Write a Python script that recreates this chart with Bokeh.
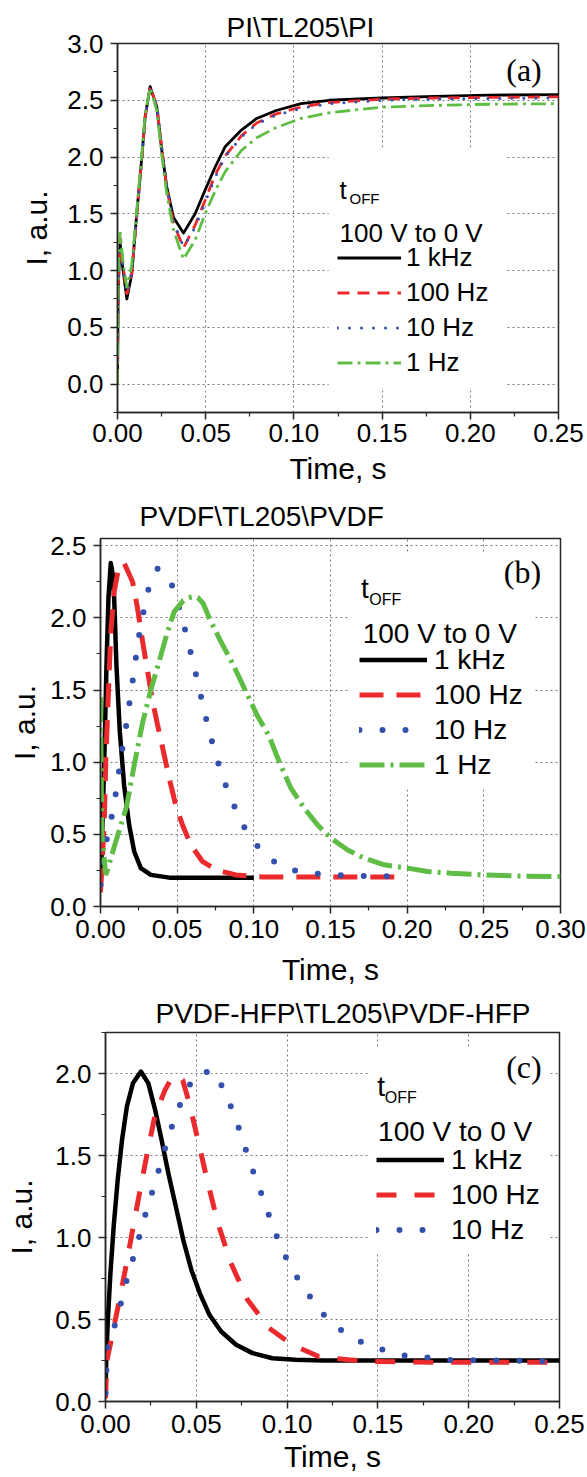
from bokeh.plotting import figure
from bokeh.models import (Legend, LegendItem, Label, BoxAnnotation, FixedTicker,
                          NumeralTickFormatter, Range1d)
from bokeh.embed import file_html
from bokeh.resources import INLINE

SANS = "Liberation Sans"
SERIF = "Liberation Serif"
BLACK = "#000000"
RED = "#ea2a2c"
BLUE = "#3350ad"
GREEN = "#5fbd45"

series_names = ["1 kHz", "100 Hz", "10 Hz", "1 Hz"]

# ---------------- panel (a): PI\TL205\PI ----------------
a_time = [0.0, 0.0004, 0.0015, 0.003, 0.0053, 0.0081, 0.0109, 0.0138, 0.0157, 0.0185,
          0.0223, 0.0251, 0.0279, 0.0317, 0.0374, 0.044, 0.0497, 0.0553, 0.061, 0.0704,
          0.0789, 0.09, 0.104, 0.12, 0.15, 0.18, 0.21, 0.25]
a_1khz = [0.0, 0.85, 1.24, 1.02, 0.75, 0.97, 1.50, 2.00, 2.36, 2.62, 2.44, 2.06, 1.74, 1.47,
          1.33, 1.50, 1.71, 1.91, 2.09, 2.24, 2.34, 2.41, 2.47, 2.50, 2.52, 2.535, 2.545, 2.55]
a_100hz = [0.0, 0.85, 1.29, 1.06, 0.79, 0.98, 1.48, 1.99, 2.35, 2.62, 2.45, 2.08, 1.73, 1.42,
           1.20, 1.40, 1.62, 1.84, 2.01, 2.19, 2.30, 2.38, 2.44, 2.48, 2.51, 2.52, 2.525, 2.53]
a_10hz = [0.0, 0.83, 1.27, 1.05, 0.80, 0.99, 1.47, 1.98, 2.35, 2.61, 2.46, 2.09, 1.75, 1.43,
          1.21, 1.38, 1.60, 1.82, 2.00, 2.18, 2.29, 2.37, 2.43, 2.47, 2.50, 2.51, 2.515, 2.52]
a_1hz = [0.0, 0.95, 1.34, 1.10, 0.85, 1.05, 1.53, 2.03, 2.38, 2.61, 2.41, 2.02, 1.68, 1.36,
         1.10, 1.27, 1.50, 1.70, 1.87, 2.06, 2.17, 2.26, 2.34, 2.39, 2.44, 2.455, 2.465, 2.47]

# ---------------- panel (b): PVDF\TL205\PVDF ----------------
b_time_1khz = [0.0, 0.0012, 0.0024, 0.0039, 0.0052, 0.0067, 0.0080, 0.0089, 0.0104, 0.0126,
               0.0154, 0.0187, 0.0220, 0.0263, 0.0328, 0.0448, 0.06, 0.08, 0.10]
b_1khz = [0.10, 0.55, 0.98, 1.67, 2.14, 2.38, 2.30, 2.14, 1.67, 1.21, 0.84, 0.565, 0.381,
          0.266, 0.219, 0.20, 0.20, 0.20, 0.20]
b_time_100hz = [0.0, 0.0024, 0.0035, 0.0052, 0.0067, 0.0089, 0.0117, 0.0154, 0.0209, 0.0241,
                0.0274, 0.0307, 0.0344, 0.0372, 0.0405, 0.0448, 0.0491, 0.0535, 0.0589,
                0.0665, 0.0753, 0.0883, 0.1057, 0.13, 0.16, 0.20]
b_100hz = [0.10, 0.565, 1.03, 1.49, 1.90, 2.18, 2.34, 2.38, 2.25, 2.07, 1.84, 1.63, 1.40,
           1.26, 1.10, 0.89, 0.70, 0.565, 0.427, 0.312, 0.254, 0.219, 0.205, 0.205, 0.205, 0.205]
b_time_10hz = [0.0, 0.0035, 0.0067, 0.0095, 0.0117, 0.0139, 0.0165, 0.0187, 0.0209, 0.0230,
               0.0252, 0.0280, 0.0313, 0.0372, 0.0444, 0.0491, 0.0531, 0.0568, 0.0605, 0.0640,
               0.0672, 0.0709, 0.0748, 0.0790, 0.0835, 0.0883, 0.0933, 0.0985, 0.1046, 0.1112,
               0.1188, 0.1243, 0.1308, 0.1384, 0.16, 0.18, 0.20]
b_10hz = [0.15, 0.438, 0.588, 0.75, 0.912, 1.073, 1.235, 1.397, 1.558, 1.72, 1.88, 2.04, 2.20,
          2.34, 2.285, 2.16, 2.0, 1.85, 1.685, 1.53, 1.374, 1.212, 1.063, 0.92, 0.785, 0.67,
          0.558, 0.468, 0.39, 0.32, 0.289, 0.254, 0.242, 0.23, 0.215, 0.21, 0.21]
b_time_1hz = [0.0, 0.0008, 0.0035, 0.0100, 0.0170, 0.0220, 0.0274, 0.0328, 0.0383, 0.0437,
              0.0481, 0.0540, 0.0575, 0.0605, 0.0635, 0.0670, 0.0709, 0.0785, 0.0861, 0.0948,
              0.1024, 0.1100, 0.1155, 0.1242, 0.1329, 0.1416, 0.1503, 0.1612, 0.172, 0.185,
              0.2003, 0.2134, 0.2286, 0.2504, 0.275, 0.30]
b_1hz = [1.45, 0.5, 0.218, 0.451, 0.692, 0.981, 1.27, 1.50, 1.70, 1.904, 2.043, 2.12, 2.140,
         2.147, 2.140, 2.10, 2.0, 1.835, 1.685, 1.49, 1.32, 1.18, 1.03, 0.82, 0.681, 0.565,
         0.473, 0.392, 0.335, 0.289, 0.266, 0.243, 0.231, 0.219, 0.21, 0.208]

# ---------------- panel (c): PVDF-HFP\TL205\PVDF-HFP ----------------
c_time_1khz = [0.0, 0.0004, 0.0013, 0.0027, 0.0045, 0.0067, 0.0091, 0.0118, 0.0151, 0.0195,
               0.0236, 0.0273, 0.0309, 0.0346, 0.0387, 0.0428, 0.0473, 0.0519, 0.0573, 0.0637,
               0.0719, 0.081, 0.0919, 0.1046, 0.12, 0.15, 0.20, 0.25]
c_1khz = [0.05, 0.254, 0.50, 0.78, 1.067, 1.35, 1.595, 1.80, 1.94, 2.012, 1.94, 1.78, 1.595,
          1.392, 1.19, 0.986, 0.802, 0.661, 0.527, 0.427, 0.346, 0.295, 0.264, 0.254, 0.25,
          0.25, 0.25, 0.25]
c_time_100hz = [0.0, 0.0008, 0.0024, 0.0073, 0.0109, 0.0146, 0.0187, 0.0228, 0.0273, 0.0328,
                0.0364, 0.0391, 0.0425, 0.0464, 0.0515, 0.0564, 0.0619, 0.0691, 0.0782, 0.0901,
                0.1028, 0.1174, 0.1337, 0.1483, 0.18, 0.21, 0.25]
c_100hz = [0.02, 0.25, 0.335, 0.60, 0.803, 1.026, 1.27, 1.504, 1.748, 1.90, 1.971, 1.992,
           1.96, 1.809, 1.565, 1.331, 1.087, 0.843, 0.62, 0.447, 0.346, 0.274, 0.254, 0.244,
           0.24, 0.24, 0.24]
c_time_10hz = [0.0, 0.0009, 0.0049, 0.0086, 0.0118, 0.0155, 0.0191, 0.0228, 0.0267, 0.0304,
               0.0342, 0.0382, 0.0433, 0.0497, 0.0591, 0.0657, 0.0706, 0.0752, 0.0791, 0.0839,
               0.0883, 0.0928, 0.0983, 0.1046, 0.1119, 0.1197, 0.1289, 0.1383, 0.1478, 0.1574,
               0.1669, 0.1756, 0.1866, 0.21, 0.25]
c_10hz = [0.05, 0.325, 0.457, 0.604, 0.746, 0.884, 1.026, 1.173, 1.311, 1.453, 1.596, 1.734,
          1.87, 1.996, 2.016, 1.894, 1.754, 1.61, 1.469, 1.327, 1.189, 1.047, 0.90, 0.772,
          0.65, 0.534, 0.441, 0.376, 0.331, 0.301, 0.274, 0.27, 0.254, 0.25, 0.245]

# ticks
x_ticks_025 = [0.0, 0.05, 0.10, 0.15, 0.20, 0.25]
x_minor_025 = [0.025, 0.075, 0.125, 0.175, 0.225]
x_ticks_030 = [0.0, 0.05, 0.10, 0.15, 0.20, 0.25, 0.30]
x_minor_030 = [0.025, 0.075, 0.125, 0.175, 0.225, 0.275]
y_ticks_a = [0.0, 0.5, 1.0, 1.5, 2.0, 2.5, 3.0]
y_minor_a = [-0.25, 0.25, 0.75, 1.25, 1.75, 2.25, 2.75]
y_ticks_b = [0.0, 0.5, 1.0, 1.5, 2.0, 2.5]
y_minor_b = [0.25, 0.75, 1.25, 1.75, 2.25]
y_ticks_c = [0.0, 0.5, 1.0, 1.5, 2.0]
y_minor_c = [0.25, 0.75, 1.25, 1.75, 2.25]

AX = "#262626"


def make_fig(title, title_offset, title_standoff, xr, yr, fw, fh, bl, br, bt, bb,
             xt, xm, yt, ym, ylab_so, xlab_so, xtick_so):
    p = figure(frame_width=fw, frame_height=fh, x_range=Range1d(*xr), y_range=Range1d(*yr),
               output_backend="svg", toolbar_location=None,
               min_border_left=bl, min_border_right=br, min_border_top=bt, min_border_bottom=bb,
               title=title)
    p.title.text_font = SANS
    p.title.text_font_size = "28px"
    p.title.text_font_style = "normal"
    p.title.text_color = "black"
    p.title.align = "left"
    p.title.offset = title_offset
    p.title.standoff = title_standoff
    p.xaxis.ticker = FixedTicker(ticks=xt, minor_ticks=xm)
    p.yaxis.ticker = FixedTicker(ticks=yt, minor_ticks=ym)
    p.xaxis.formatter = NumeralTickFormatter(format="0.00")
    p.yaxis.formatter = NumeralTickFormatter(format="0.0")
    for ax in (p.xaxis[0], p.yaxis[0]):
        ax.axis_line_color = AX
        ax.axis_line_width = 1.5
        ax.major_tick_line_color = AX
        ax.minor_tick_line_color = AX
        ax.major_tick_line_width = 1.5
        ax.minor_tick_line_width = 1.2
        ax.major_tick_out = 7
        ax.major_tick_in = 0
        ax.minor_tick_out = 4
        ax.minor_tick_in = 0
        ax.major_label_text_font = SANS
        ax.major_label_text_font_size = "26px"
        ax.major_label_text_color = "black"
        ax.axis_label_text_font = SANS
        ax.axis_label_text_font_style = "normal"
        ax.axis_label_text_color = "black"
        ax.axis_label_text_font_size = "30px"
    p.xaxis.axis_label = "Time, s"
    p.yaxis.axis_label = "I, a.u."
    p.xaxis.major_label_standoff = xtick_so
    p.yaxis.major_label_standoff = 7
    p.xaxis.axis_label_standoff = xlab_so
    p.yaxis.axis_label_standoff = ylab_so
    for g in (p.xgrid[0], p.ygrid[0]):
        g.grid_line_color = "#7a7a7a"
        g.grid_line_dash = "2 3"
        g.grid_line_width = 1
    p.outline_line_color = AX
    p.outline_line_width = 1.5
    p.background_fill_color = "white"
    p.border_fill_color = "white"
    return p


def add_legend_block(p, box, t_pos, off_pos, head_pos, tag, tag_pos, items, loc,
                     glyph_w, standoff, fsize, off_size):
    p.add_layout(BoxAnnotation(left=box[0], right=box[1], bottom=box[2], top=box[3],
                               fill_color="white", fill_alpha=1.0, line_alpha=0))
    p.add_layout(Label(x=t_pos[0], y=t_pos[1], text="t", text_font=SANS,
                       text_font_size=fsize, text_baseline="alphabetic", text_color="black"))
    p.add_layout(Label(x=off_pos[0], y=off_pos[1], text="OFF", text_font=SANS,
                       text_font_size=off_size, text_baseline="alphabetic", text_color="black"))
    p.add_layout(Label(x=head_pos[0], y=head_pos[1], text="100 V to 0 V", text_font=SANS,
                       text_font_size=fsize, text_baseline="alphabetic", text_color="black"))
    p.add_layout(Label(x=tag_pos[0], y=tag_pos[1], text=tag, text_font=SERIF,
                       text_font_size="32px", text_align="right", text_baseline="middle",
                       text_color="black"))
    leg = Legend(items=items, location=loc, glyph_width=glyph_w, glyph_height=35,
                 label_height=35, label_standoff=standoff, spacing=0, padding=0, margin=0,
                 border_line_alpha=0, background_fill_alpha=0,
                 label_text_font=SANS, label_text_font_size=fsize, label_text_color="black")
    p.add_layout(leg)


# ---- (a)
pa = make_fig("PI\\TL205\\PI", 109, 2, (0, 0.25), (-0.25, 3.0), 441, 369, 117, 29, 43, 79,
              x_ticks_025, x_minor_025, y_ticks_a, y_minor_a, 11, 7, 4)
ra1 = pa.line(a_time, a_1khz, line_color=BLACK, line_width=2.8, line_join="round")
ra2 = pa.line(a_time, a_100hz, line_color=RED, line_width=2.8, line_dash="12 8")
ra3 = pa.line(a_time, a_10hz, line_color=BLUE, line_width=3, line_dash="0 12", line_cap="round")
ra4 = pa.line(a_time, a_1hz, line_color=GREEN, line_width=2.8, line_dash="15 5 3 5")
items_a = [LegendItem(label=n, renderers=[r]) for n, r in zip(series_names, [ra1, ra2, ra3, ra4])]
add_legend_block(pa, (0.1197, 0.2197, -0.03, 2.06), (0.1259, 1.714), (0.1315, 1.637),
                 (0.1259, 1.330), "(a)", (0.2405, 2.768), items_a, (220, 32), 64, 5,
                 "26px", "15px")

# ---- (b)
pb = make_fig("PVDF\\TL205\\PVDF", 39, 14, (0, 0.30), (0, 2.55), 460, 368, 100, 27, 46, 84,
              x_ticks_030, x_minor_030, y_ticks_b, y_minor_b, 6, 12, 6)
rb1 = pb.line(b_time_1khz, b_1khz, line_color=BLACK, line_width=4.5, line_join="round")
rb2 = pb.line(b_time_100hz, b_100hz, line_color=RED, line_width=5, line_dash="24 13")
rb3 = pb.line(b_time_10hz, b_10hz, line_color=BLUE, line_width=6, line_dash="0 23", line_cap="round")
rb4 = pb.line(b_time_1hz, b_1hz, line_color=GREEN, line_width=5, line_dash="25 6 3 6")
items_b = [LegendItem(label=n, renderers=[r]) for n, r in zip(series_names, [rb1, rb2, rb3, rb4])]
add_legend_block(pb, (0.1623, 0.283, 0.81, 2.445), (0.1699, 2.204), (0.1753, 2.124),
                 (0.171, 1.893), "(b)", (0.2874, 2.32), items_b, (259, 124), 68, 7,
                 "28px", "16px")

# ---- (c)
pc = make_fig("PVDF-HFP\\TL205\\PVDF-HFP", 50, 8, (0, 0.25), (0, 2.25), 454, 369, 105, 28, 42, 76,
              x_ticks_025, x_minor_025, y_ticks_c, y_minor_c, 14, 4, 6)
rc1 = pc.line(c_time_1khz, c_1khz, line_color=BLACK, line_width=4.5, line_join="round")
rc2 = pc.line(c_time_100hz, c_100hz, line_color=RED, line_width=5, line_dash="20 18")
rc3 = pc.line(c_time_10hz, c_10hz, line_color=BLUE, line_width=6, line_dash="0 23", line_cap="round")
items_c = [LegendItem(label=n, renderers=[r]) for n, r in zip(series_names[:3], [rc1, rc2, rc3])]
add_legend_block(pc, (0.1447, 0.244, 0.909, 2.152), (0.1497, 1.921), (0.1538, 1.855),
                 (0.1501, 1.646), "(c)", (0.2402, 2.04), items_c, (271, 154), 68, 7,
                 "28px", "16px")

# three separate roots stacked on the page, so each frame keeps its own position
open("out.html", "w").write(file_html([pa, pb, pc], INLINE))
